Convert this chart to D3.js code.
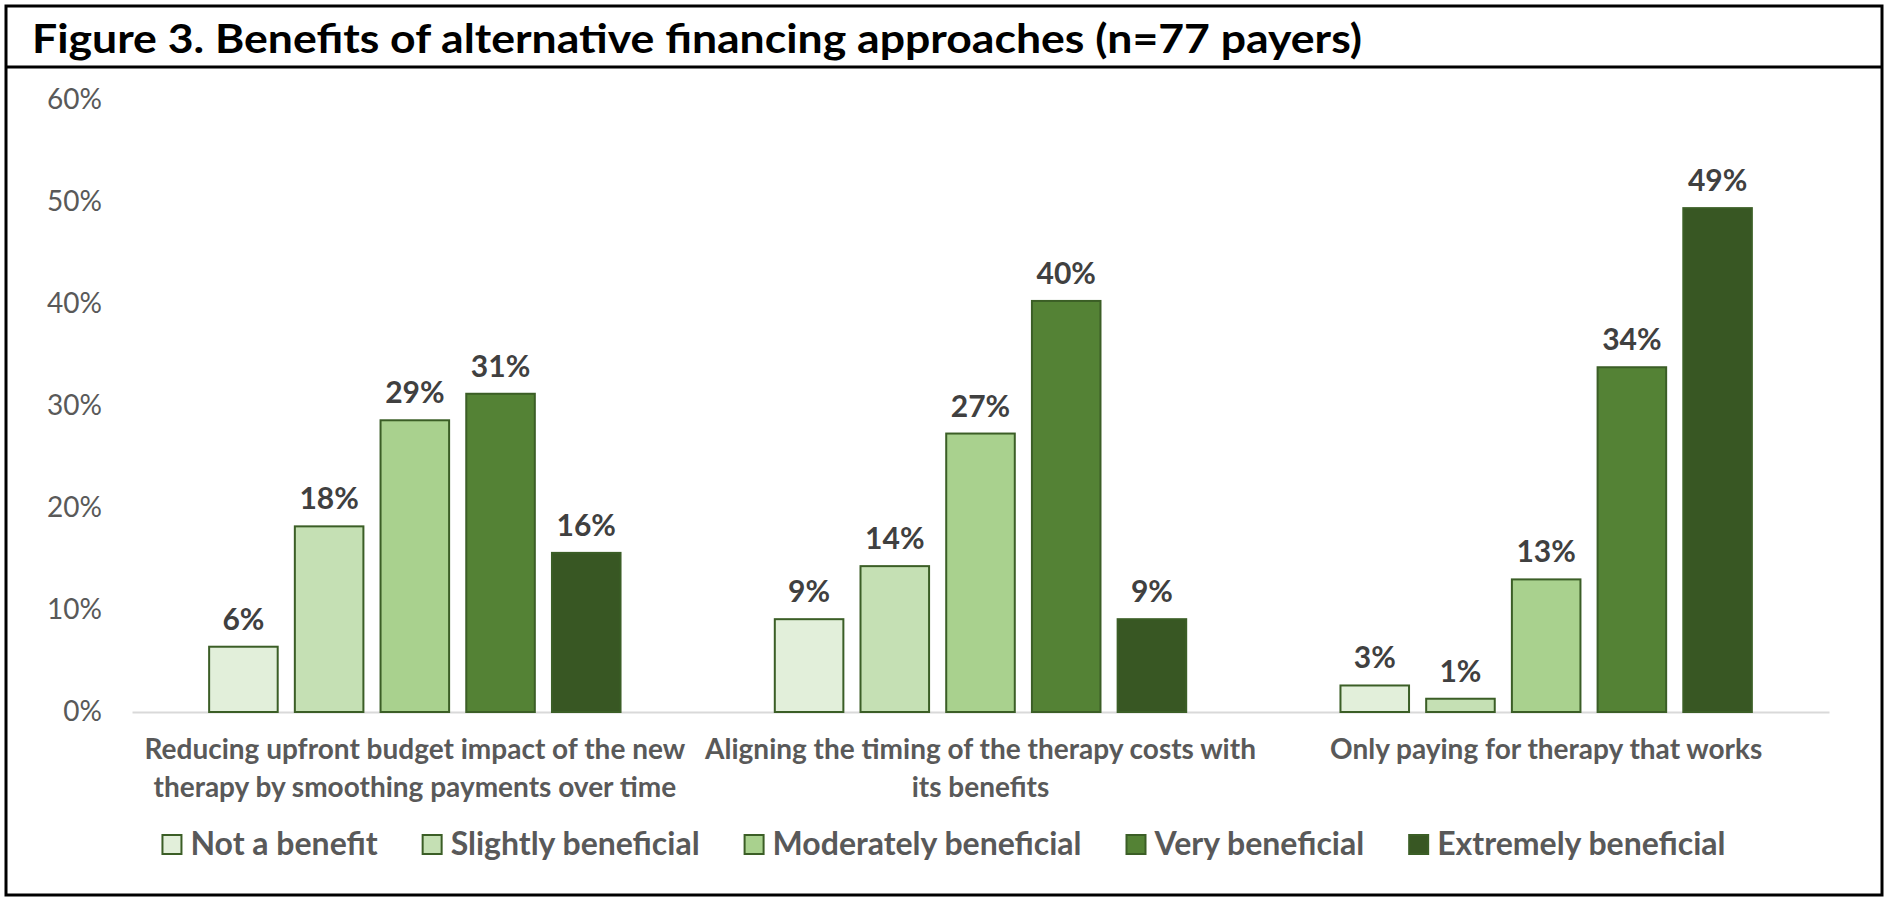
<!DOCTYPE html>
<html>
<head>
    <title>Benefits of alternative financing approaches</title>
    <script src="https://d3js.org/d3.v7.min.js"></script>
    <style>
        body { margin: 0; background: #fff; }
        svg text { font-family: Lato, "Open Sans", sans-serif; }
    </style>
</head>
<body>
    <svg width="1888" height="900"></svg>

    <script>
    // chart data (percent of n=77 payers)
    const categories = [
        "Reducing upfront budget impact of the new therapy by smoothing payments over time",
        "Aligning the timing of the therapy costs with its benefits",
        "Only paying for therapy that works"
    ];
    const categoryLines = [
        ["Reducing upfront budget impact of the new", "therapy by smoothing payments over time"],
        ["Aligning the timing of the therapy costs with", "its benefits"],
        ["Only paying for therapy that works"]
    ];
    const series = ["Not a benefit", "Slightly beneficial", "Moderately beneficial", "Very beneficial", "Extremely beneficial"];
    const notBenefit   = [6.4, 9.1, 2.6];
    const slightly     = [18.2, 14.3, 1.3];
    const moderately   = [28.6, 27.3, 13.0];
    const very         = [31.2, 40.3, 33.8];
    const extremely    = [15.6, 9.1, 49.4];
    const yTicks = [0, 10, 20, 30, 40, 50, 60];
    const colors = ["#e2efda", "#c5e0b4", "#a9d18e", "#548235", "#385723"];

    const seriesValues = [notBenefit, slightly, moderately, very, extremely];

    const svg = d3.select("svg");
    const W = 1888, H = 900;

    // frame + title
    svg.append("rect")
        .attr("x", 6).attr("y", 6)
        .attr("width", 1876).attr("height", 889)
        .attr("fill", "none").attr("stroke", "#000").attr("stroke-width", 3);
    svg.append("line")
        .attr("x1", 6).attr("x2", 1882).attr("y1", 67).attr("y2", 67)
        .attr("stroke", "#000").attr("stroke-width", 3);
    svg.append("text")
        .attr("x", 32).attr("y", 53)
        .attr("textLength", 1330).attr("lengthAdjust", "spacingAndGlyphs")
        .style("font-size", "40px").style("font-weight", "bold").attr("fill", "#000")
        .text("Figure 3. Benefits of alternative financing approaches (n=77 payers)");

    // scales
    const y = d3.scaleLinear().domain([0, 60]).range([712, 100]);
    const x0 = d3.scaleBand().domain(categories).range([132, 1829]).padding(0);
    const x1 = d3.scaleBand().domain(series).range([0, x0.bandwidth()])
        .paddingInner(0.2).paddingOuter(0.9);
    const color = d3.scaleOrdinal().domain(series).range(colors);

    // y axis (labels only)
    const yAxis = svg.append("g")
        .attr("transform", "translate(110,0)")
        .call(d3.axisLeft(y).tickValues(yTicks).tickFormat(d => d + "%").tickSize(0).tickPadding(8));
    yAxis.select(".domain").remove();
    yAxis.selectAll("text")
        .style("font-size", "28px").attr("fill", "#595959");

    // x axis baseline
    const xAxis = svg.append("g")
        .attr("transform", "translate(0,712)")
        .call(d3.axisBottom(x0).tickSize(0).tickFormat(""));
    xAxis.select(".domain").attr("stroke", "#d9d9d9").attr("stroke-width", 2);
    xAxis.selectAll(".tick text").remove();

    // category labels
    categories.forEach((c, i) => {
        const t = svg.append("text")
            .attr("text-anchor", "middle")
            .style("font-size", "28px").style("font-weight", "bold")
            .attr("fill", "#595959");
        categoryLines[i].forEach((line, j) => {
            t.append("tspan")
                .attr("x", x0(c) + x0.bandwidth() / 2)
                .attr("y", 759 + j * 38)
                .text(line);
        });
    });

    // bars
    const rows = [];
    categories.forEach((c, i) => {
        series.forEach((s, k) => rows.push({ cat: c, key: s, value: seriesValues[k][i] }));
    });

    const groups = svg.append("g").selectAll("g")
        .data(categories)
        .join("g")
        .attr("transform", d => `translate(${x0(d)},0)`);

    groups.selectAll("rect")
        .data(c => rows.filter(r => r.cat === c))
        .join("rect")
        .attr("x", d => x1(d.key))
        .attr("y", d => y(d.value))
        .attr("width", x1.bandwidth())
        .attr("height", d => y(0) - y(d.value))
        .attr("fill", d => color(d.key))
        .attr("stroke", "#3b5e26")
        .attr("stroke-width", 2);

    groups.selectAll("text")
        .data(c => rows.filter(r => r.cat === c))
        .join("text")
        .attr("x", d => x1(d.key) + x1.bandwidth() / 2)
        .attr("y", d => y(d.value) - 17)
        .attr("text-anchor", "middle")
        .style("font-size", "30px").style("font-weight", "bold")
        .attr("fill", "#404040")
        .text(d => Math.round(d.value) + "%");

    // legend, centred
    const legend = svg.append("g");
    let lx = 0;
    series.forEach(s => {
        const item = legend.append("g").attr("transform", `translate(${lx},0)`);
        item.append("rect")
            .attr("x", 0).attr("y", 835)
            .attr("width", 19).attr("height", 19)
            .attr("fill", color(s)).attr("stroke", "#3b5e26").attr("stroke-width", 2);
        const t = item.append("text")
            .attr("x", 28).attr("y", 855)
            .style("font-size", "32px").style("font-weight", "bold")
            .attr("fill", "#595959")
            .text(s);
        lx += 28 + t.node().getComputedTextLength() + 45;
    });
    const legendWidth = lx - 45;
    legend.attr("transform", `translate(${(W - legendWidth) / 2},0)`);
    </script>
</body>
</html>
